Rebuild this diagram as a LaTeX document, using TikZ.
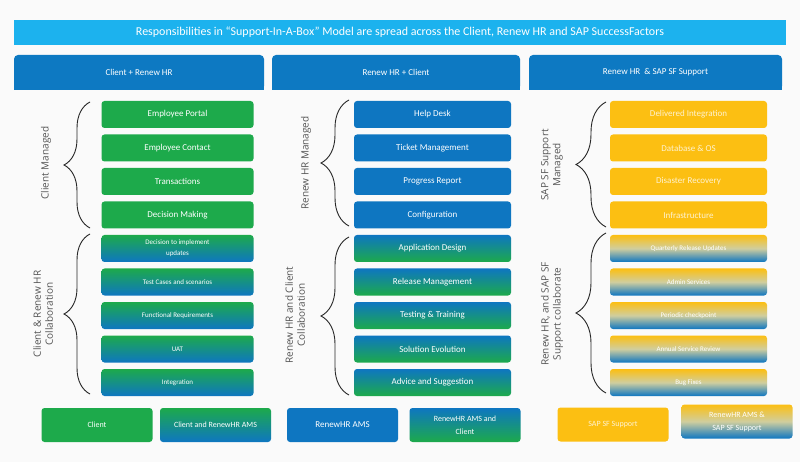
\documentclass[tikz,border=0pt]{standalone}
\usepackage{fontspec}
\setmainfont{Carlito}
\newfontfamily\lblfont{Open Sans}
\usetikzlibrary{decorations.pathreplacing}
\definecolor{cgreen}{HTML}{1DAA4B}
\definecolor{cblue}{HTML}{0E76C1}
\definecolor{cyellow}{HTML}{FCBF12}
\definecolor{ctitle}{HTML}{1CB2EE}
\definecolor{chead}{HTML}{0D79C2}
\definecolor{cgray}{HTML}{555555}
\definecolor{cbg}{HTML}{FAFAFA}
\tikzset{
  bx/.style={rounded corners=3pt, minimum height=27pt, inner sep=0pt, text=white, align=center, font=\fontsize{9}{10}\selectfont},
  lbx/.style={bx, minimum width=152pt},
  mbx/.style={bx, minimum width=157pt},
  rbx/.style={bx, minimum width=157pt},
  smalltxt/.style={font=\fontsize{7}{11}\selectfont},
  gfill/.style={fill=cgreen},
  bfill/.style={fill=cblue},
  yfill/.style={fill=cyellow, text=white!80!cyellow},
  gb/.style={top color=cgreen, bottom color=cblue, middle color=cgreen!50!cblue},
  bg/.style={top color=cblue, bottom color=cgreen, middle color=cblue!50!cgreen},
  yb/.style={top color=cyellow, bottom color=cblue, middle color=cyellow!65!cblue!55!white},
  head/.style={fill=chead, rounded corners=4pt, minimum height=35pt, inner sep=0pt},
  headtxt/.style={text=white, font=\fontsize{9}{10}\selectfont},
  brc/.style={draw=black!85, line width=0.9pt, decorate},
  grp/.style={text=cgray, font=\lblfont\fontsize{10}{12}\selectfont, align=center, rotate=90},
  leg/.style={bx, minimum width=111pt, minimum height=34pt, font=\fontsize{8}{13}\selectfont}
}
\begin{document}
\begin{tikzpicture}[x=1pt,y=-1pt]
\useasboundingbox (0,0) rectangle (800,462);
\fill[cbg] (0,0) rectangle (800,462);
% title
\node[fill=ctitle, minimum width=772pt, minimum height=25pt, inner sep=0pt, text=white, font=\fontsize{12}{13}\selectfont] (title) at (400,32.5) {Responsibilities in “Support-In-A-Box” Model are spread across the Client, Renew HR and SAP SuccessFactors};
% headers
\node[head, minimum width=250pt] (h1) at (139,72.5) {};
\node[head, minimum width=248pt] (h2) at (396,72.5) {};
\node[head, minimum width=253pt] (h3) at (655.5,72.5) {};
\fill[chead] (h1.west) rectangle (h1.south east);
\fill[chead] (h2.west) rectangle (h2.south east);
\fill[chead] (h3.west) rectangle (h3.south east);
\node[headtxt] (h1t) at (h1) {Client + Renew HR};
\node[headtxt] (h2t) at (h2) {Renew HR + Client};
\node[headtxt] (h3t) at (h3) {Renew HR \ \& SAP SF Support};
% left column
\node[lbx,gfill] (l1) at (177.5,114.5) {Employee Portal};
\node[lbx,gfill] (l2) at (177.5,148) {Employee Contact};
\node[lbx,gfill] (l3) at (177.5,181.5) {Transactions};
\node[lbx,gfill] (l4) at (177.5,215) {Decision Making};
\node[lbx,gb,smalltxt] (l5) at (177.5,248.5) {Decision to implement\\updates};
\node[lbx,gb,smalltxt] (l6) at (177.5,282) {Test Cases and scenarios};
\node[lbx,gb,smalltxt] (l7) at (177.5,315.5) {Functional Requirements};
\node[lbx,gb,smalltxt] (l8) at (177.5,349) {UAT};
\node[lbx,gb,smalltxt] (l9) at (177.5,382.5) {Integration};
% middle column
\node[mbx,bfill] (m1) at (432.5,114.5) {Help Desk};
\node[mbx,bfill] (m2) at (432.5,148) {Ticket Management};
\node[mbx,bfill] (m3) at (432.5,181.5) {Progress Report};
\node[mbx,bfill] (m4) at (432.5,215) {Configuration};
\node[mbx,bg] (m5) at (432.5,248.5) {Application Design};
\node[mbx,bg] (m6) at (432.5,282) {Release Management};
\node[mbx,bg] (m7) at (432.5,315.5) {Testing \& Training};
\node[mbx,bg] (m8) at (432.5,349) {Solution Evolution};
\node[mbx,bg] (m9) at (432.5,382.5) {Advice and Suggestion};
% right column
\node[rbx,yfill] (r1) at (688.5,114.5) {Delivered Integration};
\node[rbx,yfill] (r2) at (688.5,148) {Database \& OS};
\node[rbx,yfill] (r3) at (688.5,181.5) {Disaster Recovery};
\node[rbx,yfill] (r4) at (688.5,215) {Infrastructure};
\node[rbx,yb,smalltxt] (r5) at (688.5,248.5) {Quarterly Release Updates};
\node[rbx,yb,smalltxt] (r6) at (688.5,282) {Admin Services};
\node[rbx,yb,smalltxt] (r7) at (688.5,315.5) {Periodic checkpoint};
\node[rbx,yb,smalltxt] (r8) at (688.5,349) {Annual Service Review};
\node[rbx,yb,smalltxt] (r9) at (688.5,382.5) {Bug Fixes};
% braces
\draw[brc, decoration={brace, amplitude=26pt}] (90,228) -- (90,102);
\draw[brc, decoration={brace, amplitude=26pt}] (90,394) -- (90,234);
\draw[brc, decoration={brace, amplitude=28pt}] (349,226) -- (349,100);
\draw[brc, decoration={brace, amplitude=28pt}] (349,395) -- (349,237);
\draw[brc, decoration={brace, amplitude=30pt}] (606,227) -- (606,102);
\draw[brc, decoration={brace, amplitude=30pt}] (606,393) -- (606,233);
% group labels
\node[grp] (g1) at (46,163) {Client Managed};
\node[grp] (g2) at (43,314) {Client \& Renew HR\\Collaboration};
\node[grp] (g3) at (306,163) {Renew HR Managed};
\node[grp] (g4) at (295,315) {Renew HR and Client\\Collaboration};
\node[grp] (g5) at (552,165) {SAP SF Support\\Managed};
\node[grp] (g6) at (552,314) {Renew HR, and SAP SF\\Support collaborate};
% legend
\node[leg,gfill] (k1) at (97,425) {Client};
\node[leg,gb] (k2) at (215.5,425) {Client and RenewHR AMS};
\node[leg,bfill,font=\fontsize{9}{10}\selectfont] (k3) at (342.5,425) {RenewHR AMS};
\node[leg,bg] (k4) at (465,425) {RenewHR AMS and\\Client};
\node[leg,yfill] (k5) at (613,424.5) {SAP SF Support};
\node[leg,yb] (k6) at (737,421.5) {RenewHR AMS \&\\SAP SF Support};
\end{tikzpicture}
\end{document}
